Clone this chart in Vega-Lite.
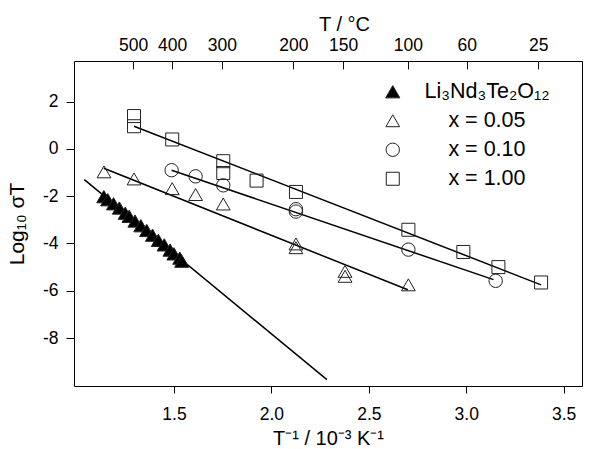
{
  "$schema": "https://vega.github.io/schema/vega-lite/v6.json",
  "width": 508,
  "height": 325,
  "autosize": {"type": "none"},
  "padding": {"left": 74, "top": 61, "right": 7, "bottom": 63},
  "background": "white",
  "config": {
    "font": "Liberation Sans",
    "view": {"stroke": "black", "strokeWidth": 1},
    "axis": {
      "domain": false,
      "grid": false,
      "tickColor": "black",
      "tickWidth": 1,
      "labelColor": "black",
      "titleColor": "black",
      "labelFont": "Liberation Sans",
      "titleFont": "Liberation Sans",
      "labelFontSize": 17.5,
      "titleFontSize": 20,
      "titleFontWeight": "normal"
    }
  },
  "datasets": {
    "pts": [
      {"series": "Li₃Nd₃Te₂O₁₂", "x": 1.14, "y": -2.02},
      {"series": "Li₃Nd₃Te₂O₁₂", "x": 1.16, "y": -2.15},
      {"series": "Li₃Nd₃Te₂O₁₂", "x": 1.19, "y": -2.32},
      {"series": "Li₃Nd₃Te₂O₁₂", "x": 1.22, "y": -2.5},
      {"series": "Li₃Nd₃Te₂O₁₂", "x": 1.25, "y": -2.72},
      {"series": "Li₃Nd₃Te₂O₁₂", "x": 1.27, "y": -2.85},
      {"series": "Li₃Nd₃Te₂O₁₂", "x": 1.3, "y": -3.05},
      {"series": "Li₃Nd₃Te₂O₁₂", "x": 1.33, "y": -3.25},
      {"series": "Li₃Nd₃Te₂O₁₂", "x": 1.36, "y": -3.45},
      {"series": "Li₃Nd₃Te₂O₁₂", "x": 1.39, "y": -3.65},
      {"series": "Li₃Nd₃Te₂O₁₂", "x": 1.42, "y": -3.87},
      {"series": "Li₃Nd₃Te₂O₁₂", "x": 1.45, "y": -4.06},
      {"series": "Li₃Nd₃Te₂O₁₂", "x": 1.48, "y": -4.28},
      {"series": "Li₃Nd₃Te₂O₁₂", "x": 1.5, "y": -4.44},
      {"series": "Li₃Nd₃Te₂O₁₂", "x": 1.53, "y": -4.62},
      {"series": "Li₃Nd₃Te₂O₁₂", "x": 1.54, "y": -4.75},
      {"series": "x = 0.05", "x": 1.141, "y": -0.97},
      {"series": "x = 0.05", "x": 1.295, "y": -1.27},
      {"series": "x = 0.05", "x": 1.491, "y": -1.68},
      {"series": "x = 0.05", "x": 1.611, "y": -1.93},
      {"series": "x = 0.05", "x": 1.753, "y": -2.33},
      {"series": "x = 0.05", "x": 2.126, "y": -4.02},
      {"series": "x = 0.05", "x": 2.126, "y": -4.18},
      {"series": "x = 0.05", "x": 2.378, "y": -5.18},
      {"series": "x = 0.05", "x": 2.378, "y": -5.39},
      {"series": "x = 0.05", "x": 2.703, "y": -5.75},
      {"series": "x = 0.10", "x": 1.488, "y": -0.9},
      {"series": "x = 0.10", "x": 1.611, "y": -1.16},
      {"series": "x = 0.10", "x": 1.753, "y": -1.54},
      {"series": "x = 0.10", "x": 2.126, "y": -2.55},
      {"series": "x = 0.10", "x": 2.126, "y": -2.65},
      {"series": "x = 0.10", "x": 2.703, "y": -4.26},
      {"series": "x = 0.10", "x": 3.151, "y": -5.58},
      {"series": "x = 1.00", "x": 1.295, "y": 1.39},
      {"series": "x = 1.00", "x": 1.295, "y": 0.96},
      {"series": "x = 1.00", "x": 1.491, "y": 0.4},
      {"series": "x = 1.00", "x": 1.753, "y": -0.52},
      {"series": "x = 1.00", "x": 1.753, "y": -1.02},
      {"series": "x = 1.00", "x": 1.924, "y": -1.34},
      {"series": "x = 1.00", "x": 2.126, "y": -1.82},
      {"series": "x = 1.00", "x": 2.703, "y": -3.42},
      {"series": "x = 1.00", "x": 2.985, "y": -4.36},
      {"series": "x = 1.00", "x": 3.165, "y": -5.0},
      {"series": "x = 1.00", "x": 3.384, "y": -5.65}
    ],
    "fits": [
      {"fit": "a", "x": 1.04, "y": -1.3},
      {"fit": "a", "x": 2.285, "y": -9.76},
      {"fit": "b", "x": 1.14, "y": -0.82},
      {"fit": "b", "x": 2.7, "y": -5.96},
      {"fit": "c", "x": 1.488, "y": -0.9},
      {"fit": "c", "x": 3.14, "y": -5.53},
      {"fit": "d", "x": 1.295, "y": 0.96},
      {"fit": "d", "x": 3.384, "y": -5.75}
    ]
  },
  "layer": [
    {
      "data": {"name": "fits"},
      "mark": {"type": "line", "color": "black", "strokeWidth": 1.5},
      "encoding": {
        "x": {
          "field": "x", "type": "quantitative",
          "scale": {"domain": [0.987, 3.594], "nice": false, "zero": false},
          "axis": {
            "orient": "bottom",
            "title": "T⁻¹ / 10⁻³ K⁻¹",
            "values": [1.5, 2.0, 2.5, 3.0, 3.5],
            "format": ".1f",
            "tickSize": 7,
            "labelPadding": 12,
            "titlePadding": 6
          }
        },
        "y": {
          "field": "y", "type": "quantitative",
          "scale": {"domain": [-10.03, 3.72], "nice": false, "zero": false},
          "axis": {
            "title": "Log₁₀ σT",
            "titleFontSize": 21,
            "values": [-8, -6, -4, -2, 0, 2],
            "labelExpr": "'' + datum.value",
            "tickSize": 8,
            "labelPadding": 8,
            "titlePadding": 15
          }
        },
        "detail": {"field": "fit", "type": "nominal"}
      }
    },
    {
      "data": {"name": "pts"},
      "mark": {"type": "point", "filled": true, "stroke": "#222", "strokeWidth": 1, "opacity": 1},
      "encoding": {
        "x": {"field": "x", "type": "quantitative", "axis": null},
        "y": {"field": "y", "type": "quantitative"},
        "shape": {
          "field": "series", "type": "nominal",
          "scale": {
            "domain": ["Li₃Nd₃Te₂O₁₂", "x = 0.05", "x = 0.10", "x = 1.00"],
            "range": ["triangle-up", "triangle-up", "circle", "square"]
          },
          "legend": {
            "title": null,
            "orient": "none",
            "legendX": 308,
            "legendY": 20,
            "padding": 0,
            "labelFontSize": 21.5,
            "labelFont": "Liberation Sans",
            "labelColor": "black",
            "labelOffset": 21,
            "rowPadding": 6,
            "symbolStrokeColor": "#222",
            "symbolStrokeWidth": 1,
            "labelExpr": "datum.value == 'Li₃Nd₃Te₂O₁₂' ? datum.label : '\u200b\u00a0\u00a0\u00a0\u00a0' + datum.label"
          }
        },
        "fill": {
          "field": "series", "type": "nominal",
          "scale": {
            "domain": ["Li₃Nd₃Te₂O₁₂", "x = 0.05", "x = 0.10", "x = 1.00"],
            "range": ["black", "transparent", "transparent", "transparent"]
          }
        },
        "size": {
          "field": "series", "type": "nominal",
          "scale": {
            "domain": ["Li₃Nd₃Te₂O₁₂", "x = 0.05", "x = 0.10", "x = 1.00"],
            "range": [200, 169, 160, 100]
          }
        }
      }
    },
    {
      "data": {"name": "pts"},
      "mark": {"type": "point", "opacity": 0},
      "encoding": {
        "x": {
          "field": "x", "type": "quantitative",
          "axis": {
            "orient": "top",
            "offset": -8,
            "title": "T / °C",
            "values": [1.29, 1.49, 1.746, 2.113, 2.368, 2.7, 3.002, 3.37],
            "labelExpr": "datum.value < 1.4 ? '500' : datum.value < 1.6 ? '400' : datum.value < 1.9 ? '300' : datum.value < 2.2 ? '200' : datum.value < 2.5 ? '150' : datum.value < 2.85 ? '100' : datum.value < 3.2 ? '60' : '25'",
            "ticks": true,
            "tickSize": 8,
            "tickColor": "#111111",
            "tickWidth": 1,
            "labelPadding": 7,
            "titleX": 270,
            "titleY": -39,
            "titleBaseline": "alphabetic"
          }
        }
      }
    }
  ],
  "resolve": {"axis": {"x": "independent"}}
}
